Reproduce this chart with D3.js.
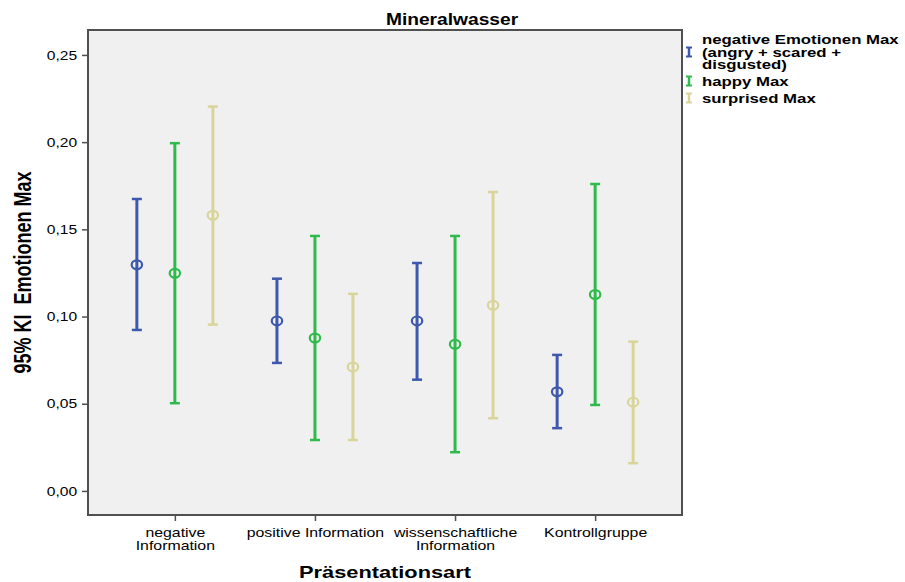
<!DOCTYPE html>
<html>
<head>
<meta charset="utf-8">
<script src="https://cdnjs.cloudflare.com/ajax/libs/d3/7.8.5/d3.min.js"></script>
<style>
  body { margin: 0; background: #fff; }
  text { font-family: "Liberation Sans", Arial, sans-serif; fill: #000; }
</style>
</head>
<body>
<script>
// categories and tick labels
var categories = ["negative Information", "positive Information", "wissenschaftliche Information", "Kontrollgruppe"],
    categoryLines = [["negative", "Information"], ["positive Information"], ["wissenschaftliche", "Information"], ["Kontrollgruppe"]],
    yTicks = [0, 0.05, 0.10, 0.15, 0.20, 0.25];

var series = ["negative Emotionen Max", "happy Max", "surprised Max"],
    legendLines = [["negative Emotionen Max", "(angry + scared +", "disgusted)"], ["happy Max"], ["surprised Max"]],
    colors = ["#3d58ad", "#2fbb4b", "#d9d59a"];

// mean and 95% CI per series, in category order
var negMean  = [0.1297, 0.0975, 0.0975, 0.0569],
    negLow   = [0.0923, 0.0734, 0.0638, 0.0360],
    negHigh  = [0.1674, 0.1217, 0.1307, 0.0780];
var happyMean = [0.1248, 0.0877, 0.0841, 0.1126],
    happyLow  = [0.0503, 0.0292, 0.0222, 0.0493],
    happyHigh = [0.1994, 0.1462, 0.1462, 0.1760];
var surpMean = [0.1581, 0.0711, 0.1065, 0.0509],
    surpLow  = [0.0954, 0.0292, 0.0417, 0.0159],
    surpHigh = [0.2204, 0.1130, 0.1714, 0.0856];

var means = [negMean, happyMean, surpMean],
    lows = [negLow, happyLow, surpLow],
    highs = [negHigh, happyHigh, surpHigh];

var rows = [];
series.forEach(function(s, si) {
    categories.forEach(function(c, ci) {
        rows.push({ series: s, idx: si, cat: c, mean: means[si][ci], low: lows[si][ci], high: highs[si][ci] });
    });
});

var width = 905,
    height = 582,
    plot = { left: 88, right: 682, top: 30, bottom: 515 };

var svg = d3.select('body')
        .append('svg')
         .attr('width', width)
         .attr('height', height);

var x = d3.scalePoint()
        .domain(categories)
        .range([plot.left, plot.right])
        .padding(0.62);

var offset = d3.scalePoint()
        .domain(series)
        .range([-38, 38]);

var y = d3.scaleLinear()
        .domain([-0.0138, 0.2643])
        .range([plot.bottom, plot.top]);

var comma = d3.formatLocale({ decimal: ",", thousands: ".", grouping: [3], currency: ["", "€"] }).format(".2f");

// plot background + frame
svg.append('rect')
    .attr('x', plot.left)
    .attr('y', plot.top)
    .attr('width', plot.right - plot.left)
    .attr('height', plot.bottom - plot.top)
    .attr('fill', '#f0f0f0')
    .attr('stroke', '#505050')
    .attr('stroke-width', 2);

var yAxis = d3.axisLeft(y)
        .tickValues(yTicks)
        .tickFormat(comma)
        .tickSize(6)
        .tickPadding(3);

var gy = svg.append('g')
    .attr('class', 'y axis')
    .attr('transform', "translate(" + plot.left + ",0)")
    .call(yAxis);
gy.select('.domain').remove();
gy.selectAll('line').attr('stroke', '#505050').attr('stroke-width', 1.5);
gy.selectAll('text')
    .attr('font-size', 13)
    .attr('font-family', '"Liberation Sans", Arial, sans-serif')
    .attr('transform', 'scale(1.2,1)');

var xAxis = d3.axisBottom(x)
        .tickSize(6)
        .tickFormat("");

var gx = svg.append('g')
    .attr('class', 'x axis')
    .attr('transform', "translate(0," + plot.bottom + ")")
    .call(xAxis);
gx.select('.domain').remove();
gx.selectAll('line').attr('stroke', '#505050').attr('stroke-width', 1.5);

gx.selectAll('.tick').each(function(d, i) {
    var t = d3.select(this).append('text')
        .attr('text-anchor', 'middle')
        .attr('font-size', 12.5)
        .attr('transform', 'scale(1.27,1)');
    categoryLines[i].forEach(function(line, li) {
        t.append('tspan').attr('x', 0).attr('y', 22 + li * 13).text(line);
    });
});

// error bars
var bars = svg.append('g').selectAll('g.bar')
        .data(rows)
      .enter().append('g')
        .attr('class', 'bar')
        .attr('transform', function(d) { return "translate(" + (x(d.cat) + offset(d.series)) + ",0)"; })
        .attr('stroke', function(d) { return colors[d.idx]; })
        .attr('fill', 'none');

bars.append('line')
    .attr('y1', function(d) { return y(d.low); })
    .attr('y2', function(d) { return y(d.high); })
    .attr('stroke-width', 3);

bars.append('line')
    .attr('x1', -5).attr('x2', 5)
    .attr('y1', function(d) { return y(d.high); })
    .attr('y2', function(d) { return y(d.high); })
    .attr('stroke-width', 2.5);

bars.append('line')
    .attr('x1', -5).attr('x2', 5)
    .attr('y1', function(d) { return y(d.low); })
    .attr('y2', function(d) { return y(d.low); })
    .attr('stroke-width', 2.5);

bars.append('ellipse')
    .attr('cy', function(d) { return y(d.mean); })
    .attr('rx', 5.2)
    .attr('ry', 4.4)
    .attr('stroke-width', 2.2);

// titles
svg.append('text')
    .attr('text-anchor', 'middle')
    .attr('font-weight', 'bold')
    .attr('font-size', 16)
    .attr('transform', 'translate(452,25) scale(1.2,1)')
    .text('Mineralwasser');

svg.append('text')
    .attr('text-anchor', 'middle')
    .attr('font-weight', 'bold')
    .attr('font-size', 16.5)
    .attr('transform', 'translate(' + ((plot.left + plot.right) / 2) + ',578) scale(1.32,1)')
    .text('Präsentationsart');

svg.append('text')
    .attr('text-anchor', 'middle')
    .attr('font-weight', 'bold')
    .attr('font-size', 18)
    .style('white-space', 'pre')
    .attr('transform', 'translate(31,' + ((plot.top + plot.bottom) / 2) + ') rotate(-90) scale(1,1.3)')
    .text('95% KI  Emotionen Max');

// legend
var legendY = [52, 81, 98];
var legend = svg.append('g').selectAll('g')
        .data(series)
      .enter().append('g')
        .attr('transform', function(d, i) { return "translate(689," + legendY[i] + ")"; });

legend.append('line')
    .attr('y1', -5).attr('y2', 5)
    .attr('stroke', function(d, i) { return colors[i]; })
    .attr('stroke-width', 2.5);
legend.append('line')
    .attr('x1', -3).attr('x2', 3).attr('y1', -4.5).attr('y2', -4.5)
    .attr('stroke', function(d, i) { return colors[i]; })
    .attr('stroke-width', 2);
legend.append('line')
    .attr('x1', -3).attr('x2', 3).attr('y1', 4.5).attr('y2', 4.5)
    .attr('stroke', function(d, i) { return colors[i]; })
    .attr('stroke-width', 2);

legend.each(function(d, i) {
    var lines = legendLines[i],
        t = d3.select(this).append('text')
            .attr('font-weight', 'bold')
            .attr('font-size', 12)
            .attr('transform', 'translate(13,0) scale(1.4,1)');
    lines.forEach(function(line, li) {
        t.append('tspan')
            .attr('x', 0)
            .attr('y', 4.5 + (li - (lines.length - 1) / 2) * 12.5)
            .text(line);
    });
});
</script>
</body>
</html>
